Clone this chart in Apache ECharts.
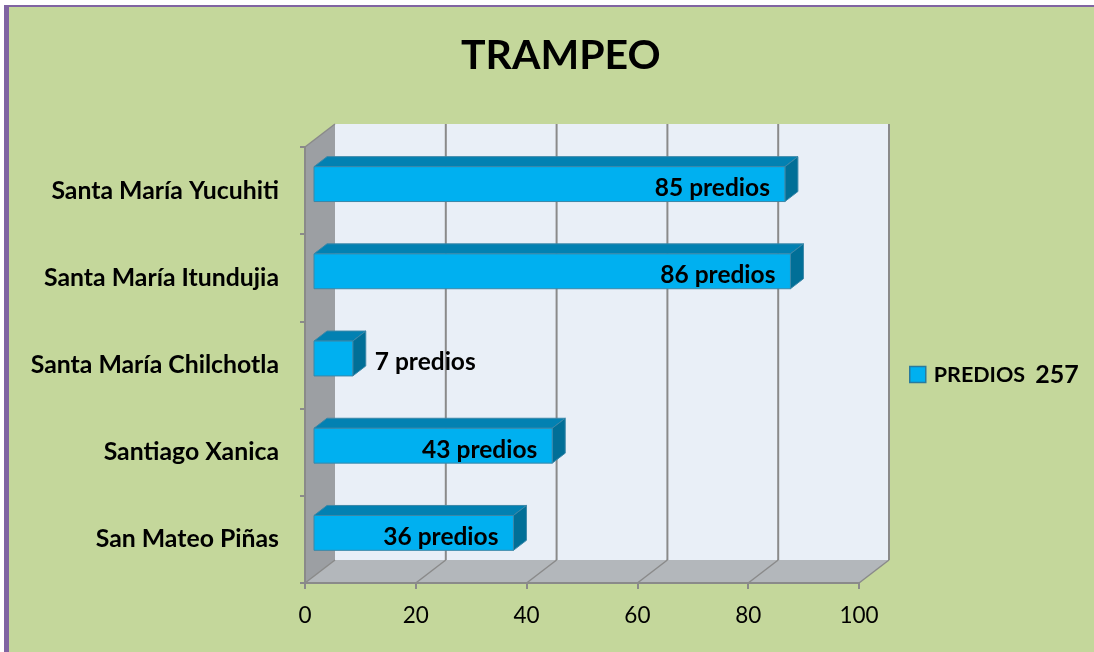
<!DOCTYPE html>
<html>
<head>
<meta charset="utf-8">
<title>TRAMPEO</title>
<script src="https://cdn.jsdelivr.net/npm/echarts@6/dist/echarts.min.js"></script>
<style>
  html, body { margin: 0; padding: 0; background: #ffffff; }
  #frame {
    position: absolute; left: 4px; top: 5px; width: 1090px; height: 647px;
    box-sizing: border-box; background: #c4d79b;
    border-left: 5px solid #8064a2; border-top: 2px solid #8064a2;
  }
  #chart { position: absolute; left: 0; top: 0; width: 1094px; height: 652px; }
</style>
</head>
<body>
<div id="frame"></div>
<div id="chart"></div>
<script>
const categories = ['Santa María Yucuhiti', 'Santa María Itundujia', 'Santa María Chilchotla', 'Santiago Xanica', 'San Mateo Piñas']
const predios = [85, 86, 7, 43, 36]
const xTicks = [0, 20, 40, 60, 80, 100]

const total = predios.reduce((a, b) => a + b, 0)

// fake 3d: depth of the back wall and of the bars
const WALL_DX = 30
const WALL_DY = -23
const BAR_OX = 9
const BAR_OY = -6.5
const BAR_DX = 13
const BAR_DY = -10

const chart = echarts.init(document.getElementById('chart'))

function renderWalls(params, api) {
  const cs = params.coordSys
  const x = cs.x, y = cs.y, w = cs.width, h = cs.height
  const children = [
    // back wall
    { type: 'rect', shape: { x: x + WALL_DX, y: y + WALL_DY, width: w, height: h },
      style: { fill: '#e9eff7' } },
    // left side wall
    { type: 'polygon', shape: { points: [[x, y], [x + WALL_DX, y + WALL_DY], [x + WALL_DX, y + h + WALL_DY], [x, y + h]] },
      style: { fill: '#9c9fa3' } },
    // floor
    { type: 'polygon', shape: { points: [[x, y + h], [x + WALL_DX, y + h + WALL_DY], [x + w + WALL_DX, y + h + WALL_DY], [x + w, y + h]] },
      style: { fill: '#b3b7bb' } }
  ]
  xTicks.slice(1).forEach(v => {
    const px = api.coord([v, 0])[0]
    children.push({ type: 'line',
      shape: { x1: px + WALL_DX, y1: y + WALL_DY, x2: px + WALL_DX, y2: y + h + WALL_DY },
      style: { stroke: '#8a8a8a', lineWidth: 2 } })
    children.push({ type: 'line',
      shape: { x1: px, y1: y + h, x2: px + WALL_DX, y2: y + h + WALL_DY },
      style: { stroke: '#8a8a8a', lineWidth: 1.5 } })
  })
  // floor left edge and top edge of side wall
  children.push({ type: 'line',
    shape: { x1: x, y1: y + h, x2: x + WALL_DX, y2: y + h + WALL_DY },
    style: { stroke: '#8a8a8a', lineWidth: 1.5 } })
  children.push({ type: 'line',
    shape: { x1: x, y1: y, x2: x + WALL_DX, y2: y + WALL_DY },
    style: { stroke: '#8a8a8a', lineWidth: 1.5 } })
  return { type: 'group', children: children }
}

function renderBar(params, api) {
  const v = api.value(0)
  const c = api.value(1)
  const p0 = api.coord([0, c])
  const p1 = api.coord([v, c])
  const bh = api.size([0, 1])[1] * 0.4
  const x0 = p0[0] + BAR_OX
  const x1 = p1[0] + BAR_OX
  const yc = p0[1] + BAR_OY
  const y0 = yc - bh / 2
  const y1 = yc + bh / 2
  const edge = { stroke: '#3b87a8', lineWidth: 1 }
  const inside = v > 15
  return {
    type: 'group',
    children: [
      { type: 'polygon', shape: { points: [[x0, y0], [x0 + BAR_DX, y0 + BAR_DY], [x1 + BAR_DX, y0 + BAR_DY], [x1, y0]] },
        style: Object.assign({ fill: '#0281b2' }, edge) },
      { type: 'polygon', shape: { points: [[x1, y0], [x1 + BAR_DX, y0 + BAR_DY], [x1 + BAR_DX, y1 + BAR_DY], [x1, y1]] },
        style: Object.assign({ fill: '#016f97' }, edge) },
      { type: 'rect', shape: { x: x0, y: y0, width: x1 - x0, height: bh },
        style: Object.assign({ fill: '#00b0f0' }, edge) },
      { type: 'text', x: inside ? x1 - 15 : x1 + BAR_DX + 9, y: yc + 4,
        style: { text: v + ' predios', fill: '#000', font: 'bold 24.5px Lato',
          align: inside ? 'right' : 'left', verticalAlign: 'middle' } }
    ]
  }
}

chart.setOption({
  backgroundColor: 'transparent',
  animation: false,
  title: {
    text: 'TRAMPEO',
    left: 456,
    top: 30,
    textStyle: { fontFamily: 'Lato', fontWeight: 'bold', fontSize: 41, color: '#000' }
  },
  legend: {
    left: 909,
    top: 362,
    padding: 0,
    itemWidth: 16,
    itemHeight: 16,
    data: [{ name: 'PREDIOS', icon: 'rect',
      itemStyle: { color: '#00b0f0', borderColor: '#2a7a9c', borderWidth: 1.5 } }],
    formatter: name => '{a|' + name + '}{b|' + total + '}',
    textStyle: {
      rich: {
        a: { fontFamily: 'Lato', fontWeight: 'bold', fontSize: 21.5, color: '#000', padding: [0, 10, 1, 3], verticalAlign: 'bottom' },
        b: { fontFamily: 'Lato', fontWeight: 'bold', fontSize: 25, color: '#000', verticalAlign: 'bottom' }
      }
    }
  },
  grid: { left: 305, right: 235, top: 147, bottom: 69 },
  xAxis: {
    type: 'value',
    min: xTicks[0],
    max: xTicks[xTicks.length - 1],
    interval: xTicks[1] - xTicks[0],
    z: 5,
    splitLine: { show: false },
    axisLine: { show: true, lineStyle: { color: '#8a8a8a', width: 2 } },
    axisTick: { show: true, length: 6, lineStyle: { color: '#8a8a8a', width: 2 } },
    axisLabel: { margin: 21, fontFamily: 'Lato', fontSize: 22.5, color: '#000' }
  },
  yAxis: {
    type: 'category',
    data: categories,
    inverse: true,
    z: 5,
    axisLine: { show: true, lineStyle: { color: '#8a8a8a', width: 2 } },
    axisTick: { show: true, length: 5, lineStyle: { color: '#8a8a8a', width: 2 } },
    axisLabel: { margin: 26, fontFamily: 'Lato', fontWeight: 'bold', fontSize: 24.8, color: '#000' }
  },
  series: [
    {
      name: 'walls',
      type: 'custom',
      z: 1,
      silent: true,
      renderItem: renderWalls,
      data: [[0, 0]]
    },
    {
      name: 'PREDIOS',
      type: 'custom',
      z: 3,
      renderItem: renderBar,
      encode: { x: 0, y: 1 },
      data: predios.map((v, i) => [v, i])
    }
  ]
})
</script>
</body>
</html>
